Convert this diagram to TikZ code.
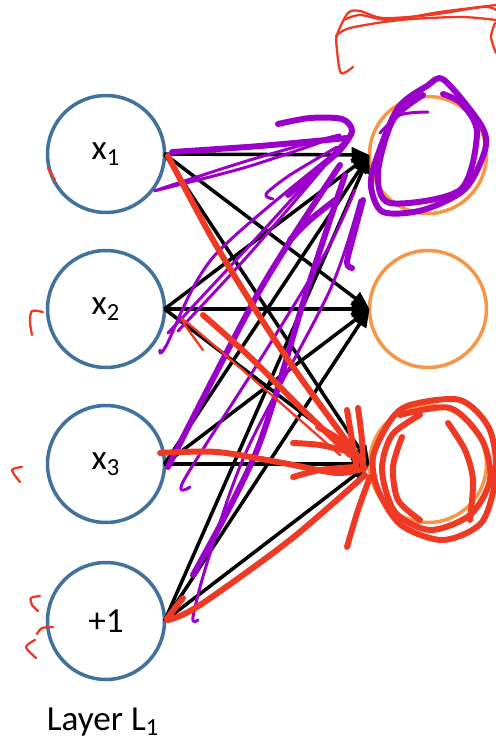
\documentclass[tikz,border=0pt]{standalone}
\usepackage{fontspec}
\setmainfont{Carlito}
\usetikzlibrary{arrows.meta}
\definecolor{NetBlue}{HTML}{41719C}
\definecolor{NetOrange}{HTML}{F79646}
\definecolor{InkPurple}{HTML}{9A00C9}
\definecolor{InkRed}{HTML}{EE3A24}

\begin{document}
\begin{tikzpicture}[x=0.02cm,y=-0.02cm,
    inputnode/.style={circle,draw=NetBlue,line width=2pt,minimum size=2.34cm,inner sep=0pt,
      outer sep=0pt,font=\fontsize{20}{23}\selectfont},
    hiddennode/.style={circle,draw=NetOrange,line width=2pt,minimum size=2.34cm,inner sep=0pt,outer sep=0pt},
    link/.style={-{Triangle[length=3.6mm,width=3mm]},line width=2pt,color=black},
    purplepen/.style={InkPurple,line width=3.4pt,line cap=round,line join=round},
    purplethin/.style={InkPurple,line width=1.7pt,line cap=round,line join=round},
    redpen/.style={InkRed,line width=3.4pt,line cap=round,line join=round},
    redthin/.style={InkRed,line width=1.3pt,line cap=round,line join=round}
  ]
    \fill[white] (0,0) rectangle (496,741);
    \useasboundingbox (0,0) rectangle (496,741);
    % layer L1 and the next layer
    \node[inputnode] (in1) at (106,154) {x\textsubscript{1}};
    \node[inputnode] (in2) at (106,309) {x\textsubscript{2}};
    \node[inputnode] (in3) at (106,464) {x\textsubscript{3}};
    \node[inputnode] (in4) at (106,621) {+1};
    \node[hiddennode] (hid1) at (428,155) {};
    \node[hiddennode] (hid2) at (428,309) {};
    \node[hiddennode] (hid3) at (428,464) {};
    \node[font=\fontsize{20}{23}\selectfont] (layer) at (103,722) {Layer L\textsubscript{1}};
    \foreach \i in {1,...,4}
      \foreach \j in {1,2,3}
        \draw[link] (in\i.east) -- (hid\j.west);
    % purple ink
    \draw[purplepen] plot[smooth] coordinates {(172,152) (260,146) (347,138)};
    \draw[purplepen] plot[smooth] coordinates {(278,124) (310,118) (342,119) (352,131) (340,150) (315,172) (288,195)};
    \draw[purplethin] plot[smooth] coordinates {(157,190) (250,160) (340,135) (250,166) (162,189) (157,190)};
    \draw[purplethin] plot[smooth] coordinates {(273,199) (266,194) (290,175) (337,147)};
    \draw[purplethin] plot[smooth] coordinates {(160,350) (166,346) (215,255) (345,145)};
    \draw[purplethin] plot[smooth] coordinates {(168,333) (250,245) (345,141) (252,251) (178,331)};
    \draw[purplepen] plot[smooth] coordinates {(168,467) (260,290) (340,165)};
    \draw[purplethin] plot[smooth] coordinates {(190,487) (184,480) (260,360) (327,250) (355,190)};
    \draw[purplepen] plot[smooth] coordinates {(193,575) (257,450) (307,290) (345,175)};
    \draw[purplethin] plot[smooth] coordinates {(198,620) (193,617) (208,560) (247,450) (330,290) (360,200)};
    \draw[purplepen] plot[smooth] coordinates {(290,240) (310,220) (335,200)};
    \draw[purplepen] plot[smooth] coordinates {(352,268) (347,262) (355,230) (363,200)};
    \draw[purplepen] plot[smooth cycle] coordinates {(427,86) (444,80) (481,125) (485,150) (465,189) (423,210)
      (383,212) (371,187) (376,160) (398,108)};
    \draw[purplepen] plot[smooth] coordinates {(443,94) (462,104) (477,133) (460,190) (390,203) (378,173)
      (393,120) (423,95)};
    \draw[purplethin] plot[smooth] coordinates {(380,133) (400,115) (428,112)};
    % red ink
    \draw[redthin] plot[smooth] coordinates {(353,67) (341,73) (337,50) (337,35) (348,13) (360,11) (383,18)
      (430,15) (483,7) (496,10)};
    \draw[redthin] plot[smooth] coordinates {(336,36) (350,28) (400,20) (460,17) (496,20)};
    \draw[redthin] plot[smooth] coordinates {(344,20) (360,15) (390,20) (440,12) (496,5)};
    \draw[redthin] plot[smooth] coordinates {(495,23) (491,37) (496,53)};
    \draw[redthin] (48,168) -- (55,180);
    \draw[redthin] plot[smooth] coordinates {(43,312) (32,311) (30,322) (32,335)};
    \draw[redthin] plot[smooth] coordinates {(22,467) (12,470) (20,482)};
    \draw[redthin] plot[smooth] coordinates {(40,596) (31,598) (32,605) (38,611)};
    \draw[redthin] plot[smooth] coordinates {(53,627) (42,628) (37,634)};
    \draw[redthin] plot[smooth] coordinates {(35,640) (26,647) (36,658)};
    \draw[redpen] plot[smooth] coordinates {(168,156) (213,240) (260,317) (300,377) (362,462)};
    \draw[redpen] plot[smooth] coordinates {(203,315) (250,357) (300,407) (350,455)};
    \draw[redthin] plot[smooth] coordinates {(203,350) (183,322) (190,325) (260,385) (340,455)};
    \draw[redpen] plot[smooth] coordinates {(160,453) (217,452) (283,463) (337,473) (365,468)};
    \draw[redpen] plot[smooth] coordinates {(183,598) (172,612) (168,620) (200,605) (290,540) (365,475)};
    \draw[redpen] plot[smooth] coordinates {(347,547) (358,510) (370,477)};
    \draw[redpen] plot[smooth] coordinates {(347,410) (352,440) (357,470)};
    \draw[redpen] plot[smooth] coordinates {(358,408) (362,440) (363,470)};
    \draw[redpen] plot[smooth] coordinates {(293,443) (320,445) (350,452)};
    \draw[redpen] plot[smooth] coordinates {(293,477) (320,470) (355,467)};
    \draw[redpen] plot[smooth] coordinates {(318,427) (340,440) (358,460)};
    \draw[redpen] plot[smooth cycle] coordinates {(390,421) (410,405) (460,400) (489,428) (496,473) (482,522)
      (443,540) (401,525) (378,490) (373,457)};
    \draw[redpen] plot[smooth] coordinates {(400,415) (450,408) (482,440) (490,480) (470,515) (430,530)
      (395,512) (382,470) (392,435) (420,415)};
    \draw[redpen] plot[smooth] coordinates {(448,423) (465,450) (473,480) (470,520)};
    \draw[redpen] plot[smooth] coordinates {(402,437) (393,467) (398,500) (420,520)};
  \end{tikzpicture}
\end{document}
